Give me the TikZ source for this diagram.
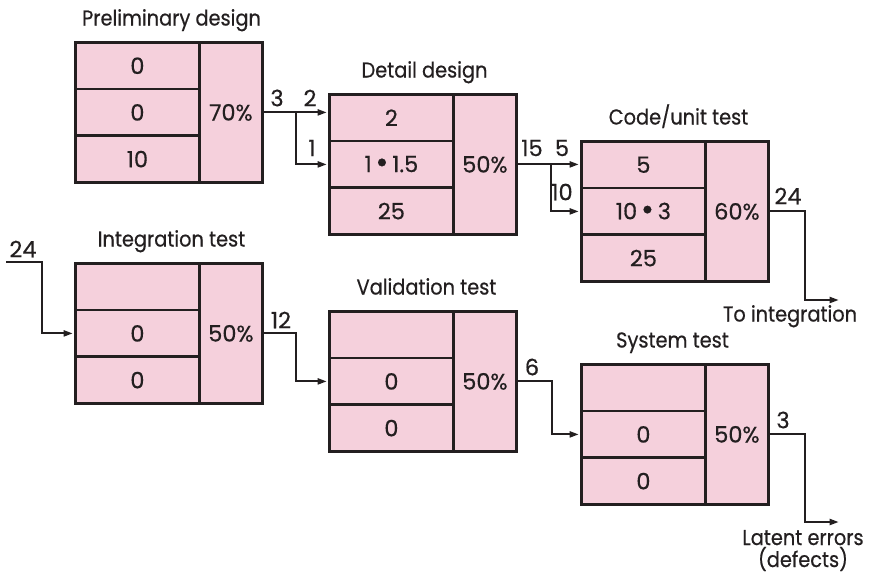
\documentclass[tikz,border=0pt]{standalone}
\usepackage{fontspec}
\setmainfont{Poppins}[FakeStretch=0.9,FakeBold=0.5]
\newfontfamily\numfont{Poppins}[FakeBold=0.5]
\usetikzlibrary{arrows.meta}
\definecolor{cellpink}{RGB}{245,208,220}
\definecolor{ink}{RGB}{35,31,32}
\newcommand\bigdot{\raisebox{-0.8pt}{\scalebox{1.4}{\textbullet}}}
\tikzset{
  txt/.style={font=\fontsize{21.5}{25}\selectfont, text=ink},
  numtxt/.style={font=\numfont\fontsize{22.5}{26}\selectfont, text=ink},
  cell/.style={numtxt, draw=ink, fill=cellpink, line width=2.8pt, minimum width=124pt,
    minimum height=46.667pt, inner sep=0pt, anchor=north west},
  pctcell/.style={cell, minimum width=63pt, minimum height=140pt},
  stitle/.style={txt, anchor=base, inner sep=0pt},
  lbl/.style={txt, inner sep=0pt},
  nlbl/.style={numtxt, inner sep=0pt},
  flow/.style={draw=ink, line width=2pt, shorten >=1.3pt,
    -{Triangle[length=9pt,width=6pt]}},
}
\newcommand\stagebox[9]{%
  \node[cell] (#1r1) at (#2,#3) {#4};
  \node[cell] (#1r2) at (#2,#3+46.667) {#5};
  \node[cell] (#1r3) at (#2,#3+93.333) {#6};
  \node[pctcell] (#1p) at (#2+124,#3) {#7};
  \node[stitle] (#1t) at (#2+93.5+#9,#3-15.5) {#8};
}
\begin{document}
\begin{tikzpicture}[x=1pt,y=-1pt]
\useasboundingbox (0,0) rectangle (870,582);
\fill[white] (0,0) rectangle (870,582);

\stagebox{b1}{74}{41}{0}{0}{10}{70\%}{Preliminary design}{4}
\stagebox{b2}{328}{93}{2}{1\,\bigdot\,1.5}{25}{50\%}{Detail design}{3}
\stagebox{b3}{580}{140}{5}{10\,\bigdot\,3}{25}{60\%}{Code/unit test}{5}
\stagebox{b4}{74}{262}{}{0}{0}{50\%}{Integration test}{4}
\stagebox{b5}{328}{310}{}{0}{0}{50\%}{Validation test}{5}
\stagebox{b6}{580}{363}{}{0}{0}{50\%}{System test}{-1}

% preliminary -> detail
\draw[flow] (b1p.east) -- ++(32,0) coordinate (s1) -- (b2r1.west |- b1p.east);
\draw[flow] (s1) |- (b2r2.west);
\node[nlbl] (l3) at (277,98) {3};
\node[nlbl] (l2) at (310,98) {2};
\node[nlbl] (l1) at (312,148) {1};

% detail -> code
\draw[flow] (b2p.east) -- ++(33,0) coordinate (s2) -- (b3r1.west |- b2p.east);
\draw[flow] (s2) |- (b3r2.west);
\node[nlbl] (l15) at (532,148) {15};
\node[nlbl] (l5) at (562,148) {5};
\node[nlbl] (l10) at (562,192) {10};

% code -> to integration
\coordinate (k3) at (805,300);
\coordinate (e3) at (840,300);
\draw[flow] (b3p.east) -| (k3) -- (e3);
\node[nlbl] (l24a) at (788,196) {24};
\node[lbl, anchor=base] (toint) at (790,321.5) {To integration};

% into integration test
\coordinate (in4) at (6,262);
\coordinate (j4) at (42,262);
\draw[flow] (in4) -- (j4) |- (b4r2.west);
\node[nlbl] (l24b) at (23,249) {24};

% integration -> validation
\draw[flow] (b4p.east) -- ++(32,0) |- (b5r2.west);
\node[nlbl] (l12) at (281,320) {12};

% validation -> system
\draw[flow] (b5p.east) -- ++(34,0) |- (b6r2.west);
\node[nlbl] (l6) at (532,367) {6};

% system -> latent errors
\coordinate (k6) at (805,522);
\coordinate (e6) at (840,522);
\draw[flow] (b6p.east) -| (k6) -- (e6);
\node[nlbl] (l3b) at (783,420) {3};
\node[lbl, anchor=base] (lat1) at (803,545) {Latent errors};
\node[lbl, anchor=base] (lat2) at (803,567) {(defects)};
\end{tikzpicture}
\end{document}
